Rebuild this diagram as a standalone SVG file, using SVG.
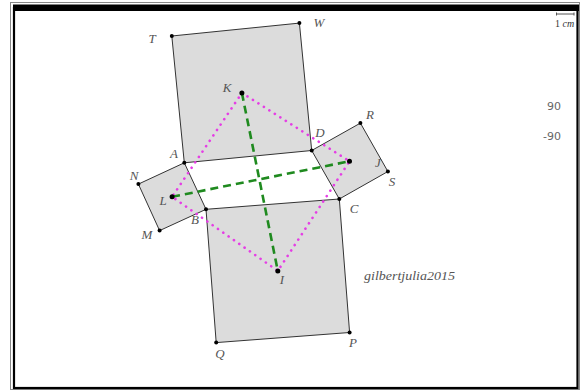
<svg xmlns="http://www.w3.org/2000/svg" width="581" height="392" viewBox="0 0 581 392">
<style>
.sq{fill:#dcdcdc;stroke:#333;stroke-width:1}
.pt{fill:#000}
.lb{font-family:"Liberation Serif",serif;font-style:italic;font-size:13px;fill:#555;text-anchor:middle}
.num{font-family:"DejaVu Sans",sans-serif;font-size:11px;fill:#666;text-anchor:end}
.pink{fill:none;stroke:#e53ee5;stroke-width:2.6;stroke-linecap:round;stroke-dasharray:0.1 6.4}
.green{fill:none;stroke:#1f8a1f;stroke-width:2.6;stroke-dasharray:8 5}
</style>
<rect x="0" y="0" width="581" height="392" fill="#fff"/>
<g id="frame">
<rect x="10.5" y="2.5" width="569" height="387" fill="none" stroke="#888" stroke-width="1"/>
<rect x="13" y="4.5" width="566" height="6.5" fill="#000"/>
<rect x="14" y="8" width="563.5" height="380" fill="none" stroke="#000" stroke-width="2.2"/>
</g>
<g id="squares">
<polygon id="sq-top" class="sq" points="184.3,162.8 311.7,150.5 299.4,23.1 171.8,36"/>
<polygon id="sq-bottom" class="sq" points="206,209.3 339.3,199 349.6,332.5 216.2,342.6"/>
<polygon id="sq-right" class="sq" points="311.7,150.5 339.3,199 387.9,171.5 360.4,123.1"/>
<polygon id="sq-left" class="sq" points="184.3,162.8 206,209.3 159.6,230.6 138.4,184.1"/>
</g>
<g id="connectors">
<polygon class="pink" points="241.9,92.9 349.5,161.3 277.8,270.9 172.1,196.8"/>
<line class="green" x1="241.9" y1="92.9" x2="277.8" y2="270.9"/>
<line class="green" x1="172.1" y1="196.8" x2="349.5" y2="161.3"/>
</g>
<g id="points">
<circle class="pt" cx="184.3" cy="162.8" r="2"/>
<circle class="pt" cx="311.7" cy="150.5" r="2"/>
<circle class="pt" cx="339.3" cy="199" r="2"/>
<circle class="pt" cx="206" cy="209.3" r="2"/>
<circle class="pt" cx="171.8" cy="36" r="2"/>
<circle class="pt" cx="299.4" cy="23.1" r="2"/>
<circle class="pt" cx="349.6" cy="332.5" r="2"/>
<circle class="pt" cx="216.2" cy="342.6" r="2"/>
<circle class="pt" cx="360.4" cy="123.1" r="2"/>
<circle class="pt" cx="387.9" cy="171.5" r="2"/>
<circle class="pt" cx="138.4" cy="184.1" r="2"/>
<circle class="pt" cx="159.6" cy="230.6" r="2"/>
<circle class="pt" cx="241.9" cy="92.9" r="2.5"/>
<circle class="pt" cx="277.8" cy="270.9" r="2.5"/>
<circle class="pt" cx="349.5" cy="161.3" r="2.5"/>
<circle class="pt" cx="172.1" cy="196.8" r="2.5"/>
</g>
<g id="labels">
<text class="lb" x="152" y="42.5">T</text>
<text class="lb" x="319" y="27">W</text>
<text class="lb" x="227" y="91.5">K</text>
<text class="lb" x="320" y="137">D</text>
<text class="lb" x="174" y="157.5">A</text>
<text class="lb" x="134" y="180">N</text>
<text class="lb" x="370" y="118.5">R</text>
<text class="lb" x="378" y="166.5">J</text>
<text class="lb" x="392" y="186">S</text>
<text class="lb" x="354" y="213">C</text>
<text class="lb" x="195" y="223.5">B</text>
<text class="lb" x="163" y="205">L</text>
<text class="lb" x="147" y="238.5">M</text>
<text class="lb" x="282" y="283.5">I</text>
<text class="lb" x="220" y="357.5">Q</text>
<text class="lb" x="353" y="346.5">P</text>
<text class="lb" x="364" y="280" style="text-anchor:start" textLength="91" lengthAdjust="spacingAndGlyphs">gilbertjulia2015</text>
</g>
<g id="scale">
<line x1="556.5" y1="14" x2="574" y2="14" stroke="#555" stroke-width="1"/>
<line x1="556.5" y1="12.5" x2="556.5" y2="15.5" stroke="#555" stroke-width="1"/>
<line x1="574" y1="12.5" x2="574" y2="15.5" stroke="#555" stroke-width="1"/>
<text x="555" y="27" font-family="Liberation Serif, serif" font-size="10" fill="#333">1 <tspan font-style="italic">cm</tspan></text>
</g>
<g id="values">
<text class="num" x="561" y="110">90</text>
<text class="num" x="561" y="140">-90</text>
</g>
</svg>
